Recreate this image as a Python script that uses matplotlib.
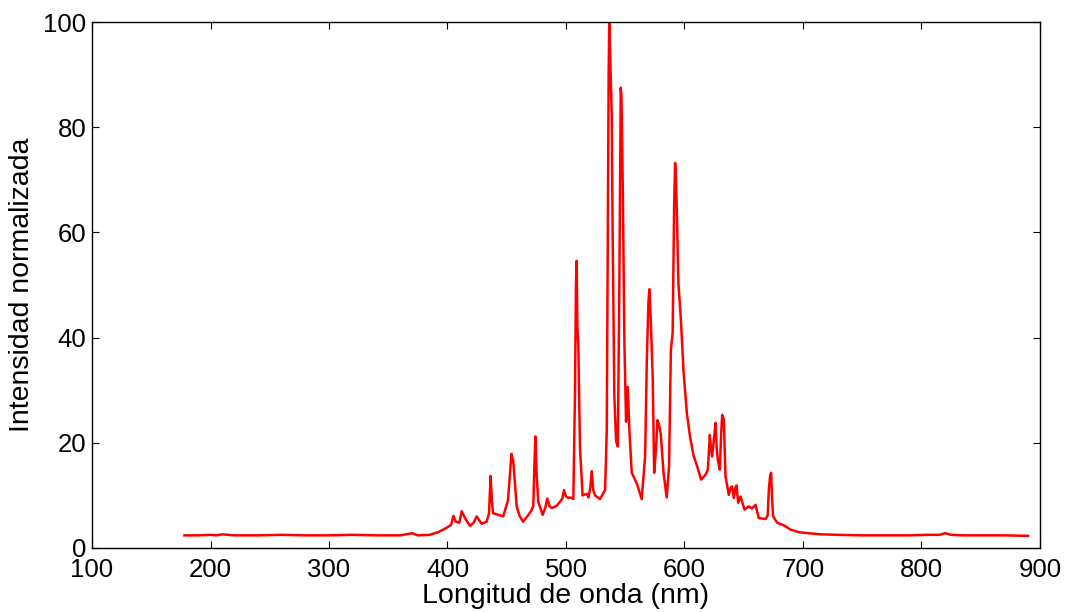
import numpy as np
import matplotlib
matplotlib.use("Agg")
import matplotlib.pyplot as plt

plt.rcParams['font.family'] = ['Liberation Sans', 'DejaVu Sans']

# spectrum (wavelength in nm, normalised intensity)
wavelength = [
    178, 190, 200, 205, 210, 220, 240, 260, 280, 300, 320, 340, 360, 370, 375, 385,
    392, 399, 403, 405, 407, 410, 412, 415, 419, 422, 424.6, 427, 428.8, 433, 435,
    436.4, 437.5, 438.4, 443, 447, 451, 453, 454, 455.5, 458.4, 461, 463.8, 468, 471,
    472.4, 473.4, 474.2, 475.2, 476.6, 480.3, 482.5, 484.2, 486, 488, 492, 495, 497,
    498.3, 500, 502, 504, 506.2, 507.6, 508.4, 509, 509.6, 510.4, 511.8, 514, 517.5,
    519, 520.5, 521.7, 523, 524.5, 528.7, 531, 533, 534.4, 535.2, 536, 536.5, 537.5,
    538.6, 539.4, 540.8, 542.3, 543.7, 545, 546.2, 546.8, 547.9, 549.3, 550.7, 552.1,
    553.5, 555.5, 559.7, 563.9, 566.8, 568.2, 569.6, 570.4, 571.5, 573.2, 574.4,
    576, 577.2, 578.5, 580, 582.3, 585, 587, 588.5, 590, 591.3, 592.1, 592.8, 593.5,
    594.9, 596.9, 599.2, 602, 604.8, 607.6, 610.7, 614, 617.7, 619.7, 621.4, 622.3,
    623.3, 625, 626.2, 627.2, 628.1, 629.8, 631, 631.8, 633.2, 634.6, 637.4, 639,
    640.2, 641.6, 643, 643.9, 645.3, 647.3, 650.6, 654.3, 657, 659.9, 662.7, 668.4,
    670.2, 671.2, 672.3, 673.1, 674, 674.8, 678.2, 683.8, 689.5, 696.5, 705, 715,
    730, 750, 770, 790, 805, 815, 820, 825, 835, 850, 870, 890,
]
intensity = [
    2.4, 2.4, 2.5, 2.4, 2.6, 2.4, 2.4, 2.5, 2.4, 2.4, 2.5, 2.4, 2.4, 2.8, 2.4, 2.5,
    3.0, 3.8, 4.4, 6.1, 5.0, 4.8, 7.0, 5.6, 4.2, 4.8, 6.0, 5.2, 4.6, 5.0, 6.5,
    13.7, 9.0, 6.6, 6.3, 6.0, 9.0, 15.0, 17.9, 16.5, 7.9, 6.0, 5.0, 6.2, 7.2,
    8.0, 16.0, 21.2, 14.0, 8.8, 6.3, 7.6, 9.4, 8.0, 7.6, 8.0, 8.8, 9.4,
    11.0, 9.8, 9.5, 9.6, 9.3, 29.6, 50.0, 54.6, 42.0, 38.9, 19.0, 10.0, 10.3,
    9.6, 11.5, 14.6, 11.0, 10.0, 9.3, 10.2, 11.0, 22.3, 55.6, 90.0, 99.8, 92.0,
    82.2, 58.9, 28.9, 20.3, 19.3, 48.9, 87.5, 86.0, 68.9, 38.9, 24.0, 30.6,
    22.3, 14.3, 12.3, 9.3, 17.6, 35.6, 46.9, 49.2, 43.6, 32.3, 14.3,
    19.0, 24.3, 23.5, 21.6, 14.3, 9.6, 15.6, 37.6, 40.9, 65.5, 73.2, 70.0, 64.2,
    50.2, 43.6, 33.6, 25.6, 21.0, 17.6, 15.5, 13.0, 13.9, 14.9, 21.5, 19.0,
    17.4, 21.0, 23.8, 19.0, 16.8, 14.9, 22.0, 25.3, 24.4, 13.6, 10.1, 11.5,
    11.7, 9.5, 11.5, 11.9, 8.6, 9.8, 7.3, 7.9, 7.5, 8.2, 5.7, 5.5,
    6.2, 11.1, 13.8, 14.3, 9.0, 6.0, 4.8, 4.3, 3.5, 3.0, 2.8, 2.6,
    2.5, 2.4, 2.4, 2.4, 2.5, 2.5, 2.8, 2.5, 2.4, 2.4, 2.4, 2.3,
]

x_ticks = [100, 200, 300, 400, 500, 600, 700, 800, 900]
y_ticks = [0, 20, 40, 60, 80, 100]

fig = plt.figure(figsize=(10.65, 6.12), dpi=100)
ax = fig.add_axes([0.0864, 0.1046, 0.8901, 0.8594])

ax.plot(wavelength, intensity, color='#ff0000', linewidth=1.8)

ax.set_xlim(100, 900)
ax.set_ylim(0, 100)
ax.set_xticks(x_ticks)
ax.set_yticks(y_ticks)
ax.tick_params(direction='in', top=True, right=True, length=5, width=0.8,
               labelsize=18.5)
ax.tick_params(axis='x', pad=7)
ax.tick_params(axis='y', pad=4)
for s in ax.spines.values():
    s.set_linewidth(1.0)

ax.set_xlabel('Longitud de onda (nm)', fontsize=20.5, labelpad=1)
ax.set_ylabel('Intensidad normalizada', fontsize=20.5, labelpad=6)

fig.savefig('out.png', dpi=100)
plt.close(fig)
